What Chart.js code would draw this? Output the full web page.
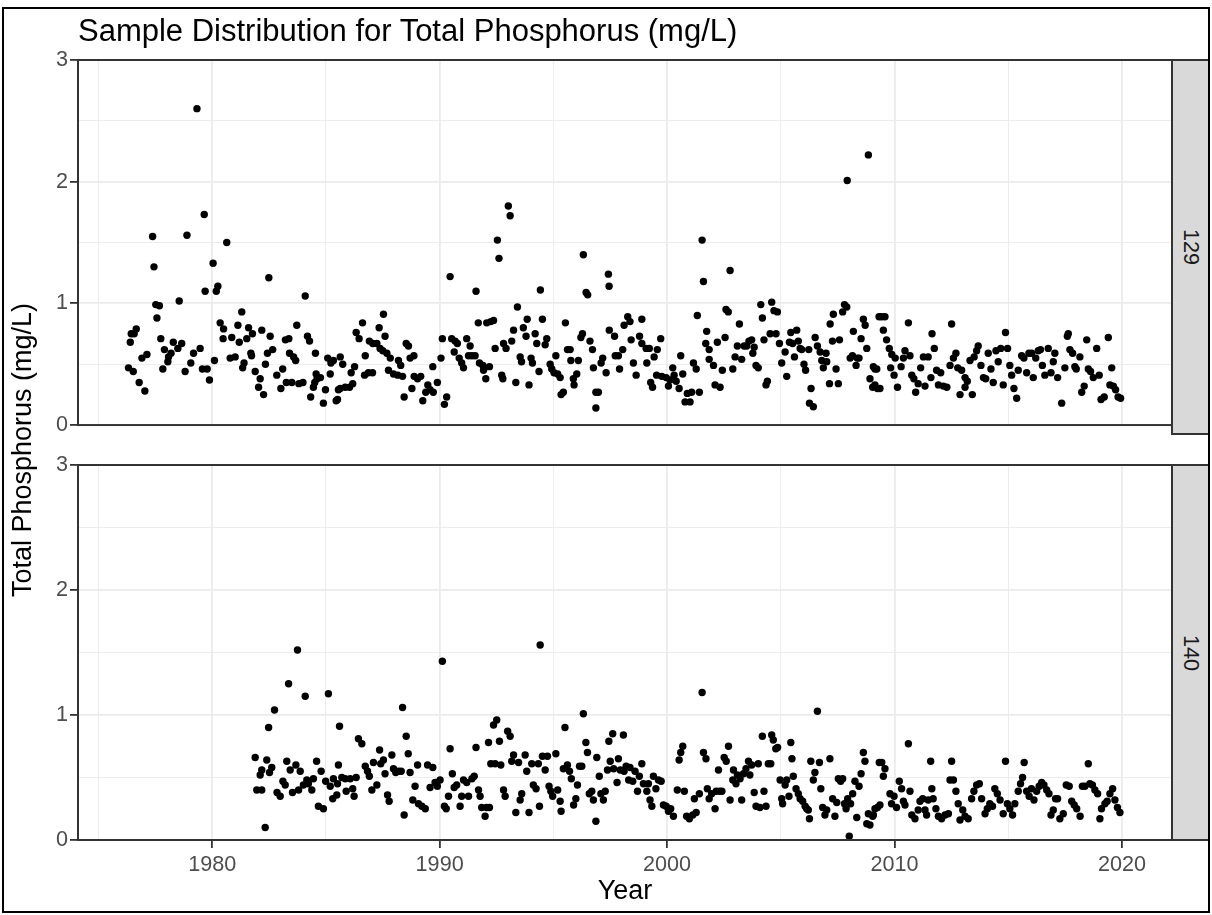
<!DOCTYPE html>
<html><head><meta charset="utf-8">
<script src="https://cdn.jsdelivr.net/npm/chart.js@4"></script>
<style>
html,body{margin:0;padding:0;background:#fff;}
body{width:1212px;height:915px;position:relative;overflow:hidden;font-family:"Liberation Sans",Arial,sans-serif;}
#frame{position:absolute;left:2px;top:7px;width:1208px;height:906px;border:2px solid #000;box-sizing:border-box;pointer-events:none;}
#title{position:absolute;left:78px;top:15px;font-size:31px;line-height:31px;color:#000;white-space:nowrap;}
#ytitle{position:absolute;left:22px;top:450px;transform:translate(-50%,-50%) rotate(-90deg);font-size:27px;line-height:27px;color:#000;white-space:nowrap;}
.wrap{position:absolute;left:0;width:1212px;}
.strip{position:absolute;left:1171px;width:39px;background:#d9d9d9;border:2px solid #333;box-sizing:border-box;}
.strip span{position:absolute;left:50%;top:50%;transform:translate(-50%,-50%) rotate(90deg);font-size:21.6px;line-height:21.6px;color:#1a1a1a;white-space:nowrap;}
</style></head>
<body>
<div class="wrap" style="top:0;height:440px"><canvas id="c1" width="1212" height="440"></canvas></div>
<div class="wrap" style="top:440px;height:475px"><canvas id="c2" width="1212" height="475"></canvas></div>
<div class="strip" style="top:59px;height:376px"><span>129</span></div>
<div class="strip" style="top:464px;height:377px"><span>140</span></div>
<div id="title">Sample Distribution for Total Phosphorus (mg/L)</div>
<div id="ytitle">Total Phosphorus (mg/L)</div>
<div id="frame"></div>
<script>
// ---- data: [year, total phosphorus mg/L] ----
const station129_a = [[1979.33,2.60],[1979.65,1.73],[1977.38,1.55],[1978.89,1.56],[1977.44,1.30],[1980.64,1.50],[1980.04,1.33],[1980.25,1.14],[1980.18,1.10],[1979.69,1.10],[1982.49,1.21],[1984.09,1.06],[1978.55,1.02],[1977.52,0.99],[1977.68,0.98],[1977.57,0.88],[1981.30,0.93],[1980.35,0.84],[1980.50,0.79],[1981.13,0.82],[1981.60,0.80],[1976.66,0.79],[1976.57,0.75],[1976.44,0.75],[1976.40,0.68],[1982.18,0.78],[1983.72,0.82],[1982.55,0.73],[1984.19,0.73],[1984.28,0.69],[1977.74,0.71],[1978.29,0.68],[1978.66,0.67],[1978.49,0.63],[1977.90,0.62],[1979.18,0.59],[1979.47,0.63],[1980.48,0.71],[1980.86,0.72],[1981.19,0.68],[1981.52,0.71],[1981.77,0.75],[1981.70,0.59],[1981.73,0.57],[1980.79,0.55],[1981.01,0.56],[1980.10,0.53],[1981.40,0.51],[1981.34,0.47],[1982.66,0.62],[1982.43,0.59],[1982.34,0.50],[1981.89,0.44],[1982.11,0.38],[1982.04,0.31],[1982.26,0.25],[1982.84,0.41],[1983.10,0.46],[1983.02,0.30],[1983.22,0.70],[1983.37,0.71],[1983.40,0.59],[1983.58,0.56],[1983.67,0.53],[1983.26,0.35],[1983.50,0.35],[1983.81,0.34],[1983.99,0.35],[1984.54,0.59],[1984.57,0.42],[1984.61,0.38],[1984.76,0.39],[1984.51,0.35],[1984.45,0.31],[1984.33,0.23],[1984.98,0.29],[1984.89,0.18],[1985.45,0.20],[1985.55,0.29],[1985.08,0.55],[1985.22,0.51],[1985.33,0.53],[1985.19,0.42],[1976.32,0.47],[1976.53,0.44],[1976.79,0.35],[1977.04,0.28],[1976.91,0.55],[1977.13,0.58],[1977.83,0.46],[1978.05,0.52],[1978.08,0.56],[1978.19,0.59],[1978.81,0.44],[1979.06,0.51],[1979.57,0.46],[1979.78,0.46],[1979.88,0.37]];
const station129_b = [[1985.63,0.56],[1985.74,0.50],[1985.51,0.21],[1985.63,0.30],[1985.85,0.31],[1986.04,0.31],[1986.18,0.34],[1986.11,0.43],[1986.26,0.48],[1986.33,0.76],[1986.46,0.71],[1986.61,0.84],[1986.91,0.69],[1987.06,0.67],[1987.24,0.67],[1987.34,0.80],[1987.53,0.91],[1987.60,0.73],[1987.38,0.63],[1987.50,0.61],[1987.68,0.59],[1987.83,0.55],[1986.73,0.57],[1986.70,0.41],[1986.87,0.43],[1987.05,0.43],[1987.75,0.45],[1987.97,0.42],[1988.16,0.41],[1988.37,0.40],[1988.19,0.53],[1988.29,0.49],[1988.53,0.67],[1988.63,0.65],[1988.70,0.55],[1988.87,0.57],[1988.44,0.23],[1988.78,0.30],[1988.88,0.40],[1989.03,0.38],[1989.17,0.40],[1989.26,0.20],[1989.39,0.27],[1989.48,0.33],[1989.58,0.29],[1989.72,0.27],[1989.70,0.48],[1989.90,0.35],[1990.21,0.17],[1990.31,0.23],[1990.06,0.55],[1990.12,0.71],[1990.46,1.22],[1990.53,0.71],[1990.68,0.69],[1990.78,0.67],[1990.64,0.60],[1990.86,0.55],[1990.97,0.51],[1991.05,0.47],[1991.19,0.71],[1991.34,0.65],[1991.27,0.57],[1991.42,0.57],[1991.56,0.57],[1991.60,1.10],[1991.70,0.84],[1991.75,0.51],[1991.90,0.49],[1991.93,0.45],[1992.03,0.38],[1992.19,0.48],[1992.07,0.84],[1992.25,0.85],[1992.37,0.86],[1992.44,0.63],[1992.54,1.52],[1992.61,1.37],[1992.73,0.41],[1992.78,0.38],[1992.81,0.67],[1992.92,0.63],[1993.02,1.80],[1993.10,1.72],[1993.17,0.69],[1993.25,0.78],[1993.42,0.97],[1993.35,0.35],[1993.54,0.56],[1993.60,0.52],[1993.68,0.80],[1993.80,0.73],[1993.85,0.87],[1993.93,0.33],[1994.02,0.55],[1994.08,0.51],[1994.20,0.75],[1994.27,0.67],[1994.37,0.44],[1994.43,1.11],[1994.52,0.87],[1994.64,0.66],[1994.71,0.71],[1994.86,0.50],[1994.93,0.46],[1995.11,0.57],[1995.03,0.43],[1995.19,0.42],[1995.30,0.39],[1995.34,0.25],[1995.44,0.27],[1995.53,0.84],[1995.62,0.62],[1995.74,0.62],[1995.77,0.53],[1995.88,0.38],[1995.91,0.33],[1996.03,0.42],[1996.10,0.53],[1996.21,0.72],[1996.28,0.75],[1996.32,1.40],[1996.44,1.09],[1996.51,1.07],[1996.61,0.69],[1996.72,0.62],[1996.76,0.47],[1996.87,0.27],[1996.87,0.14],[1996.98,0.27],[1997.10,0.51],[1997.17,0.55],[1997.32,0.43],[1997.42,1.24],[1997.45,1.14],[1997.46,0.78]];
const station129_c = [[1997.69,0.73],[1997.72,0.57],[1997.86,0.57],[1997.91,0.46],[1998.05,0.62],[1998.11,0.82],[1998.27,0.89],[1998.37,0.85],[1998.42,0.70],[1998.52,0.51],[1998.64,0.41],[1998.79,0.73],[1998.89,0.87],[1998.89,0.67],[1999.08,0.63],[1999.11,0.51],[1999.22,0.63],[1999.28,0.35],[1999.36,0.31],[1999.43,0.56],[1999.57,0.62],[1999.72,0.71],[1999.54,0.41],[1999.77,0.40],[1999.96,0.39],[2000.06,0.32],[2000.13,0.37],[2000.25,0.47],[2000.31,0.41],[2000.40,0.36],[2000.53,0.30],[2000.60,0.57],[2000.69,0.42],[2000.79,0.19],[2000.89,0.26],[2001.01,0.19],[2001.08,0.27],[2001.16,0.51],[2001.28,0.46],[2001.33,0.90],[2001.42,0.27],[2001.54,1.52],[2001.60,1.18],[2001.74,0.77],[2001.70,0.67],[2001.85,0.62],[2001.85,0.54],[2002.04,0.49],[2002.11,0.33],[2002.33,0.31],[2002.21,0.68],[2002.43,0.45],[2002.55,0.72],[2002.59,0.95],[2002.69,0.93],[2002.77,1.27],[2002.89,0.46],[2002.99,0.56],[2003.09,0.65],[2003.18,0.83],[2003.28,0.54],[2003.39,0.65],[2003.50,0.65],[2003.60,0.69],[2003.72,0.70],[2003.77,0.59],[2003.83,0.64],[2003.91,0.49],[2004.01,0.47],[2004.12,0.99],[2004.19,0.88],[2004.26,0.70],[2004.35,0.33],[2004.41,0.36],[2004.53,0.75],[2004.60,1.01],[2004.70,0.94],[2004.85,0.93],[2004.79,0.75],[2004.94,0.67],[2005.04,0.51],[2005.19,0.60],[2005.26,0.40],[2005.38,0.68],[2005.44,0.76],[2005.52,0.67],[2005.60,0.56],[2005.70,0.78],[2005.77,0.69],[2005.85,0.63],[2005.92,0.62],[2006.02,0.50],[2006.09,0.45],[2006.23,0.62],[2006.26,0.18],[2006.43,0.15],[2006.33,0.30],[2006.51,0.72],[2006.61,0.65],[2006.73,0.60],[2006.80,0.53],[2006.87,0.47],[2006.99,0.59],[2007.02,0.52],[2007.14,0.34],[2007.17,0.83],[2007.31,0.91],[2007.27,0.69],[2007.43,0.46],[2007.53,0.34],[2007.58,0.70],[2007.72,0.93],[2007.80,0.99],[2007.90,0.97],[2007.92,2.01],[2008.05,0.55],[2008.15,0.57],[2008.19,0.77],[2008.31,0.49],[2008.36,0.55],[2008.44,0.55],[2008.53,0.71],[2008.63,0.87],[2008.71,0.82],[2008.78,0.63],[2008.85,2.22],[2008.92,0.38],[2009.04,0.31],[2009.14,0.46],[2009.25,0.30],[2009.32,0.89]];
const station129_d = [[2009.07,0.48],[2009.22,0.46],[2009.14,0.33],[2009.36,0.30],[2009.44,0.89],[2009.58,0.89],[2009.51,0.78],[2009.65,0.70],[2009.77,0.63],[2009.88,0.58],[2010.03,0.55],[2009.83,0.47],[2009.98,0.41],[2010.13,0.31],[2010.29,0.48],[2010.39,0.55],[2010.46,0.61],[2010.61,0.84],[2010.68,0.57],[2010.76,0.41],[2010.85,0.38],[2010.93,0.27],[2011.04,0.34],[2011.15,0.47],[2011.27,0.56],[2011.34,0.32],[2011.48,0.56],[2011.60,0.39],[2011.65,0.75],[2011.75,0.63],[2011.85,0.45],[2011.93,0.33],[2012.03,0.43],[2012.15,0.32],[2012.30,0.31],[2012.44,0.49],[2012.51,0.83],[2012.59,0.55],[2012.70,0.59],[2012.78,0.47],[2012.88,0.25],[2012.95,0.45],[2013.10,0.39],[2013.20,0.36],[2013.10,0.31],[2013.32,0.53],[2013.42,0.25],[2013.50,0.56],[2013.61,0.61],[2013.68,0.65],[2013.80,0.49],[2013.91,0.39],[2014.01,0.38],[2014.12,0.59],[2014.24,0.46],[2014.34,0.35],[2014.46,0.61],[2014.56,0.52],[2014.67,0.63],[2014.78,0.33],[2014.88,0.76],[2014.97,0.63],[2015.07,0.49],[2015.15,0.41],[2015.25,0.30],[2015.37,0.22],[2015.44,0.45],[2015.59,0.57],[2015.69,0.55],[2015.81,0.43],[2015.91,0.59],[2016.03,0.59],[2016.10,0.39],[2016.21,0.55],[2016.32,0.61],[2016.42,0.62],[2016.50,0.49],[2016.61,0.41],[2016.76,0.63],[2016.88,0.43],[2016.98,0.52],[2017.05,0.59],[2017.17,0.39],[2017.35,0.18],[2017.49,0.47],[2017.60,0.73],[2017.64,0.75],[2017.71,0.62],[2017.83,0.59],[2017.93,0.48],[2017.99,0.46],[2018.15,0.56],[2018.23,0.27],[2018.34,0.32],[2018.45,0.70],[2018.52,0.46],[2018.62,0.44],[2018.74,0.39],[2018.89,0.63],[2019.00,0.41],[2019.08,0.21],[2019.22,0.23],[2019.40,0.72],[2019.55,0.47],[2019.47,0.33],[2019.62,0.32],[2019.72,0.29],[2019.83,0.23],[2019.94,0.22]];

const station140_a = [[1983.75,1.52],[1983.36,1.25],[1984.09,1.15],[1985.11,1.17],[1982.74,1.04],[1982.48,0.90],[1985.60,0.91],[1981.89,0.66],[1982.40,0.64],[1982.18,0.56],[1982.11,0.52],[1982.62,0.58],[1982.52,0.54],[1981.96,0.40],[1982.18,0.40],[1982.33,0.10],[1982.85,0.38],[1982.99,0.35],[1983.11,0.47],[1983.21,0.44],[1983.28,0.63],[1983.43,0.56],[1983.53,0.38],[1983.68,0.60],[1983.87,0.55],[1983.80,0.40],[1984.01,0.44],[1984.16,0.48],[1984.23,0.45],[1984.38,0.40],[1984.45,0.49],[1984.59,0.63],[1984.67,0.27],[1984.89,0.25],[1984.79,0.55],[1984.99,0.47],[1985.19,0.43],[1985.30,0.33],[1985.33,0.49],[1985.55,0.60],[1985.48,0.36]];
const station140_b = [[1985.51,0.45],[1985.70,0.50],[1985.85,0.49],[1985.89,0.39],[1986.07,0.49],[1986.18,0.41],[1986.24,0.35],[1986.33,0.50],[1986.43,0.81],[1986.58,0.77],[1986.73,0.59],[1986.83,0.55],[1986.91,0.51],[1987.02,0.40],[1987.09,0.62],[1987.24,0.44],[1987.36,0.72],[1987.41,0.61],[1987.53,0.64],[1987.60,0.53],[1987.71,0.36],[1987.78,0.31],[1987.90,0.68],[1987.97,0.57],[1988.07,0.54],[1988.19,0.55],[1988.31,0.55],[1988.37,1.06],[1988.44,0.20],[1988.53,0.83],[1988.62,0.69],[1988.70,0.54],[1988.82,0.32],[1988.92,0.43],[1989.03,0.60],[1989.07,0.29],[1989.22,0.27],[1989.37,0.25],[1989.47,0.60],[1989.58,0.42],[1989.70,0.58],[1989.80,0.46],[1989.90,0.43],[1990.02,0.48],[1990.12,1.43],[1990.21,0.27],[1990.29,0.25],[1990.39,0.35],[1990.46,0.73],[1990.56,0.53],[1990.64,0.42],[1990.75,0.44],[1990.90,0.27],[1990.97,0.35],[1991.05,0.48],[1991.19,0.46],[1991.27,0.35],[1991.42,0.49],[1991.52,0.51],[1991.60,0.74],[1991.71,0.40],[1991.78,0.35],[1991.85,0.26],[1992.00,0.19],[1992.07,0.26],[1992.19,0.26],[1992.15,0.78],[1992.25,0.61],[1992.37,0.92],[1992.51,0.96],[1992.44,0.61],[1992.63,0.79],[1992.69,0.60],[1992.81,0.40],[1992.88,0.35],[1992.99,0.87],[1993.10,0.83],[1993.17,0.63],[1993.25,0.68],[1993.35,0.22],[1993.47,0.62],[1993.54,0.32],[1993.61,0.37],[1993.76,0.68],[1993.83,0.55],[1993.93,0.22],[1994.05,0.61],[1994.12,0.44],[1994.24,0.41],[1994.34,0.61],[1994.42,1.56],[1994.39,0.27],[1994.52,0.67],[1994.64,0.56],[1994.74,0.67],[1994.81,0.43],[1994.89,0.39],[1994.97,0.35],[1995.11,0.69],[1995.19,0.40],[1995.30,0.31],[1995.34,0.23],[1995.44,0.57],[1995.51,0.90],[1995.62,0.60],[1995.71,0.55],[1995.79,0.49],[1995.89,0.28],[1995.99,0.33],[1996.06,0.44],[1996.15,0.59],[1996.25,0.59],[1996.32,1.01],[1996.43,0.78],[1996.50,0.70],[1996.58,0.37],[1996.69,0.39],[1996.76,0.32],[1996.87,0.15],[1996.91,0.66],[1997.02,0.51],[1997.09,0.37],[1997.20,0.32],[1997.28,0.39],[1997.38,0.56],[1997.44,0.79]];
const station140_c = [[1997.61,0.85],[1997.50,0.63],[1997.65,0.57],[1997.80,0.46],[1997.86,0.65],[1997.94,0.56],[1998.08,0.84],[1998.11,0.55],[1998.20,0.59],[1998.31,0.48],[1998.37,0.58],[1998.49,0.47],[1998.59,0.55],[1998.70,0.39],[1998.78,0.51],[1998.89,0.61],[1998.96,0.45],[1999.11,0.39],[1999.18,0.45],[1999.25,0.32],[1999.33,0.27],[1999.40,0.51],[1999.51,0.41],[1999.62,0.48],[1999.74,0.47],[1999.84,0.28],[1999.96,0.27],[2000.06,0.23],[2000.16,0.25],[2000.28,0.19],[2000.45,0.40],[2000.53,0.64],[2000.60,0.70],[2000.69,0.75],[2000.76,0.39],[2000.86,0.19],[2000.98,0.17],[2001.13,0.20],[2001.28,0.22],[2001.20,0.33],[2001.42,0.37],[2001.54,1.18],[2001.60,0.70],[2001.71,0.65],[2001.77,0.41],[2001.85,0.33],[2001.96,0.37],[2002.11,0.25],[2002.16,0.39],[2002.31,0.39],[2002.26,0.56],[2002.41,0.39],[2002.51,0.66],[2002.60,0.63],[2002.70,0.75],[2002.77,0.32],[2002.89,0.48],[2002.92,0.56],[2003.03,0.45],[2003.09,0.52],[2003.21,0.49],[2003.28,0.32],[2003.36,0.53],[2003.47,0.57],[2003.58,0.63],[2003.64,0.52],[2003.72,0.60],[2003.83,0.38],[2003.91,0.27],[2004.01,0.61],[2004.08,0.26],[2004.19,0.83],[2004.26,0.39],[2004.35,0.27],[2004.45,0.61],[2004.56,0.61],[2004.60,0.84],[2004.67,0.80],[2004.78,0.73],[2004.86,0.74],[2004.97,0.48],[2005.04,0.33],[2005.08,0.29],[2005.19,0.44],[2005.26,0.48],[2005.36,0.35],[2005.44,0.78],[2005.49,0.65],[2005.55,0.51],[2005.67,0.41],[2005.77,0.37],[2005.85,0.33],[2005.96,0.31],[2006.07,0.27],[2006.14,0.25],[2006.21,0.24],[2006.26,0.17],[2006.32,0.63],[2006.43,0.48],[2006.50,0.54],[2006.61,1.03],[2006.70,0.62],[2006.76,0.41],[2006.84,0.26],[2006.94,0.20],[2007.02,0.24],[2007.16,0.65],[2007.28,0.33],[2007.38,0.19],[2007.46,0.30],[2007.53,0.49],[2007.63,0.47],[2007.72,0.49],[2007.80,0.29],[2007.87,0.25],[2007.94,0.33],[2008.01,0.03],[2008.07,0.29],[2008.16,0.37],[2008.26,0.47],[2008.34,0.18],[2008.44,0.43],[2008.53,0.53],[2008.63,0.70],[2008.70,0.63],[2008.78,0.13],[2008.85,0.21],[2008.92,0.12],[2009.04,0.19],[2009.14,0.25],[2009.25,0.26],[2009.33,0.62]];
const station140_d = [[2009.07,0.20],[2009.44,0.62],[2009.58,0.57],[2009.51,0.51],[2009.36,0.28],[2009.80,0.37],[2009.87,0.29],[2009.98,0.35],[2010.09,0.26],[2010.21,0.47],[2010.31,0.41],[2010.39,0.31],[2010.46,0.28],[2010.61,0.77],[2010.68,0.39],[2010.76,0.20],[2010.90,0.17],[2011.04,0.24],[2011.12,0.31],[2011.24,0.33],[2011.34,0.24],[2011.41,0.20],[2011.48,0.32],[2011.59,0.63],[2011.64,0.41],[2011.70,0.33],[2011.82,0.25],[2011.93,0.19],[2012.07,0.17],[2012.22,0.20],[2012.37,0.21],[2012.44,0.48],[2012.51,0.63],[2012.59,0.48],[2012.70,0.39],[2012.80,0.29],[2012.88,0.16],[2013.00,0.24],[2013.10,0.19],[2013.24,0.17],[2013.39,0.33],[2013.49,0.39],[2013.61,0.44],[2013.73,0.45],[2013.83,0.33],[2013.98,0.21],[2014.08,0.25],[2014.19,0.29],[2014.31,0.27],[2014.41,0.41],[2014.52,0.37],[2014.64,0.32],[2014.78,0.21],[2014.88,0.63],[2014.96,0.29],[2015.07,0.25],[2015.19,0.20],[2015.29,0.29],[2015.44,0.39],[2015.54,0.45],[2015.63,0.50],[2015.70,0.62],[2015.81,0.39],[2015.92,0.35],[2016.02,0.41],[2016.13,0.32],[2016.25,0.39],[2016.36,0.43],[2016.47,0.46],[2016.57,0.44],[2016.69,0.40],[2016.79,0.37],[2016.88,0.20],[2016.98,0.24],[2017.08,0.33],[2017.17,0.33],[2017.27,0.17],[2017.42,0.21],[2017.55,0.44],[2017.68,0.43],[2017.79,0.31],[2017.90,0.28],[2018.01,0.25],[2018.16,0.19],[2018.26,0.43],[2018.37,0.43],[2018.52,0.61],[2018.59,0.45],[2018.70,0.44],[2018.81,0.40],[2018.93,0.37],[2019.03,0.17],[2019.10,0.25],[2019.25,0.29],[2019.35,0.31],[2019.47,0.37],[2019.59,0.41],[2019.69,0.32],[2019.80,0.26],[2019.91,0.22]];

const xGridYears = [1975,1980,1985,1990,1995,2000,2005,2010,2015,2020];
const xLabelYears = [1980,1990,2000,2010,2020];
const yGridValues = [0,0.5,1,1.5,2,2.5,3];
const yLabelValues = [0,1,2,3];
const xRange = [1974.1, 2022.2];
const yRange = [0, 3];

function toPoints(arrs){ return [].concat(...arrs).map(p => ({x:p[0], y:p[1]})); }

const FONT = '"Liberation Sans", Arial, sans-serif';
const panelBorder = {
  id:'panelBorder',
  afterDraw(chart){
    const a = chart.chartArea, c = chart.ctx;
    c.save(); c.strokeStyle = '#333333'; c.lineWidth = 2;
    c.strokeRect(a.left, a.top, a.right - a.left, a.bottom - a.top);
    c.restore();
  }
};
const isMajorX = ctx => ctx.tick && xLabelYears.includes(ctx.tick.value);
const isMajorY = ctx => ctx.tick && yLabelValues.includes(ctx.tick.value);

function makeChart(id, points, showX, padTop, padBottom, xHeight){
  return new Chart(document.getElementById(id), {
    type:'scatter',
    data:{datasets:[{data:points, backgroundColor:'#000', borderWidth:0, pointRadius:3.7, pointHoverRadius:3.7}]},
    plugins:[panelBorder],
    options:{
      responsive:false, animation:false, devicePixelRatio:1,
      layout:{padding:{left:0, right:40, top:padTop, bottom:padBottom}},
      plugins:{legend:{display:false}, tooltip:{enabled:false}, title:{display:false}},
      scales:{
        x:{type:'linear', min:xRange[0], max:xRange[1],
          afterBuildTicks(s){ s.ticks = xGridYears.map(v => ({value:v})); },
          afterFit(s){ s.height = xHeight; },
          border:{display:false},
          grid:{drawTicks:showX, tickLength:8, tickWidth:1.8,
            color:'#ebebeb',
            lineWidth:ctx => isMajorX(ctx) ? 1.8 : 0.9,
            tickColor:ctx => isMajorX(ctx) ? '#333333' : 'rgba(0,0,0,0)'},
          ticks:{display:showX, autoSkip:false, maxRotation:0, padding:4, color:'#4d4d4d',
            font:{family:FONT, size:21.6},
            callback:v => xLabelYears.includes(v) ? String(v) : ''},
          title:{display:showX, text:'Year', color:'#000', padding:{top:0, bottom:7},
            font:{family:FONT, size:27}}
        },
        y:{type:'linear', min:yRange[0], max:yRange[1],
          afterBuildTicks(s){ s.ticks = yGridValues.map(v => ({value:v})); },
          afterFit(s){ s.width = 78; },
          border:{display:false},
          grid:{tickLength:8, tickWidth:1.8,
            color:'#ebebeb',
            lineWidth:ctx => isMajorY(ctx) ? 1.8 : 0.9,
            tickColor:ctx => isMajorY(ctx) ? '#333333' : 'rgba(0,0,0,0)'},
          ticks:{autoSkip:false, padding:2, color:'#4d4d4d',
            font:{family:FONT, size:21.6},
            callback:v => yLabelValues.includes(v) ? String(v) : ''}
        }
      }
    }
  });
}

makeChart('c1', toPoints([station129_a, station129_b, station129_c, station129_d]), false, 60, 6, 0);
makeChart('c2', toPoints([station140_a, station140_b, station140_c, station140_d]), true, 25, 0, 75);
</script>
</body></html>
